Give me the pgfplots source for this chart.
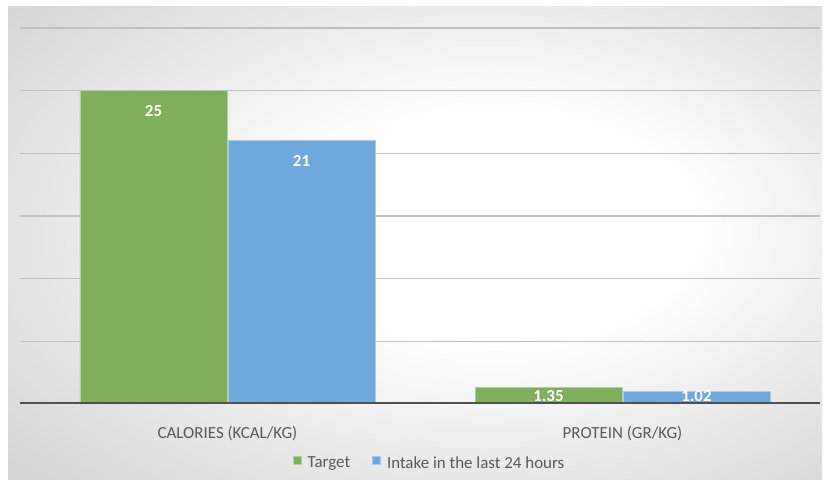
\documentclass[border=0pt]{standalone}
\usepackage{pgfplots}
\pgfplotsset{compat=1.18}
\usepackage{fontspec}
\setmainfont{Carlito}
\definecolor{tgreen}{RGB}{127,175,93}
\definecolor{tblue}{RGB}{111,168,220}
\definecolor{axgray}{RGB}{80,80,80}
\definecolor{txtgray}{RGB}{89,89,89}
\definecolor{gridgray}{RGB}{192,192,192}
\pgfdeclareradialshading{bgshade}{\pgfpoint{6bp}{2bp}}{color(0bp)=(white); color(12bp)=(white); color(46bp)=(gray!45); color(70bp)=(gray!54)}
\begin{document}
\begin{tikzpicture}[x=1bp,y=1bp]
\path[use as bounding box] (0,0) rectangle (827,485);
\shade[shading=bgshade] (8,5) rectangle (822,478);
\begin{axis}[
	at={(20bp,81bp)}, anchor=south west,
	scale only axis, width=800bp, height=376bp,
	ybar=1bp, bar width=147bp,
	xmin=-0.5253, xmax=1.5, ymin=0, ymax=30,
	xtick={0,1},
	xticklabels={CALORIES (KCAL/KG), PROTEIN (GR/KG)},
	ytick={5,10,...,30}, yticklabels={},
	ymajorgrids, grid style={gridgray, line width=1.3bp},
	axis line style={draw=none}, tick style={draw=none},
	/pgf/number format/assume math mode=true,
	xticklabel style={anchor=center, yshift=-25bp, text=txtgray,
		font=\fontsize{17}{20}\selectfont},
	nodes near coords,
	visualization depends on={rawy \as \rawy},
	every node near coord/.append style={anchor=center, text=white,
		font=\bfseries\fontsize{17}{20}\selectfont,
		yshift={(\rawy>5)*(-20bp)+(\rawy<=5)*(8bp-12.53bp*\rawy)}},
	legend columns=2,
	legend style={at={(0.512,-0.157)}, anchor=center, draw=none, fill=none,
		text=txtgray, font=\fontsize{17}{20}\selectfont,
		/tikz/every even column/.append style={column sep=20bp}},
	legend image code/.code={\fill[#1] (0bp,-1bp) rectangle (8bp,7bp); \path (12bp,0bp);},
]
\addplot[fill=tgreen, draw=tgreen!60!white, line width=0.8bp] coordinates {(0,25) (1,1.35)};
\addplot[fill=tblue, draw=tblue!60!white, line width=0.8bp] coordinates {(0,21) (1,1.02)};
\legend{Target, Intake in the last 24 hours}
\draw[axgray, line width=3bp] (axis cs:-0.5253,0) -- (axis cs:1.5,0);
\end{axis}
\end{tikzpicture}
\end{document}
